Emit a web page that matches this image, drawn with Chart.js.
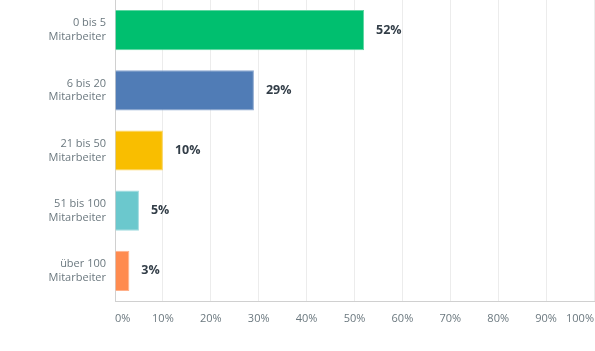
<!DOCTYPE html>
<html>
<head>
<meta charset="utf-8">
<script src="https://cdn.jsdelivr.net/npm/chart.js@4"></script>
<style>
  html, body { margin: 0; padding: 0; background: #fff; }
  #wrap { width: 595px; height: 351px; }
</style>
</head>
<body>
<div id="wrap"><canvas id="chart"></canvas></div>
<script>
const categories = [
  ['0 bis 5', 'Mitarbeiter'],
  ['6 bis 20', 'Mitarbeiter'],
  ['21 bis 50', 'Mitarbeiter'],
  ['51 bis 100', 'Mitarbeiter'],
  ['über 100', 'Mitarbeiter'],
];
const shares = [52, 29, 10, 5, 3];
const barColors = ['#00bf6f', '#507cb6', '#f9be00', '#6bc8cd', '#ff8b4f'];
const borderColors = ['#5fd6a2', '#8aa6cf', '#fbd45c', '#a2dce0', '#ffb08a'];

// percent label right of each bar
const valueLabels = {
  id: 'valueLabels',
  afterDatasetsDraw(chart) {
    const { ctx } = chart;
    const meta = chart.getDatasetMeta(0);
    ctx.save();
    ctx.font = 'bold 12.5px "Open Sans", sans-serif';
    ctx.fillStyle = '#333e48';
    ctx.textBaseline = 'middle';
    meta.data.forEach((bar, i) => {
      ctx.fillText(shares[i] + '%', bar.x + 12, bar.y);
    });
    ctx.restore();
  },
};

new Chart(document.getElementById('chart'), {
  type: 'bar',
  data: {
    labels: categories,
    datasets: [{
      data: shares,
      backgroundColor: barColors,
      borderColor: borderColors,
      borderWidth: 1,
      barPercentage: 0.667,
      categoryPercentage: 1,
    }],
  },
  options: {
    indexAxis: 'y',
    responsive: true,
    maintainAspectRatio: false,
    animation: false,
    layout: { padding: { top: 0, right: 1, left: 0, bottom: 0 } },
    plugins: { legend: { display: false }, tooltip: { enabled: false } },
    scales: {
      x: {
        min: 0,
        max: 100,
        ticks: {
          stepSize: 10,
          align: 'inner',
          padding: 11,
          color: '#6b787f',
          font: { family: '"Open Sans", sans-serif', size: 11 },
          callback: (v) => v + '%',
        },
        grid: { color: '#ececec', drawTicks: false },
        border: { color: '#d0d0d0' },
        afterFit: (s) => {
          s.height = 50;
          s.paddingLeft = 0;
          s.paddingRight = 0;
        },
      },
      y: {
        ticks: {
          padding: 9,
          color: '#6b787f',
          font: { family: '"Open Sans", sans-serif', size: 11, lineHeight: 1.25 },
        },
        grid: { display: false, drawTicks: false },
        border: { color: '#d0d0d0' },
        afterFit: (s) => {
          s.width = 115;
          s.paddingTop = 0;
          s.paddingBottom = 0;
        },
      },
    },
  },
  plugins: [valueLabels],
});
</script>
</body>
</html>
